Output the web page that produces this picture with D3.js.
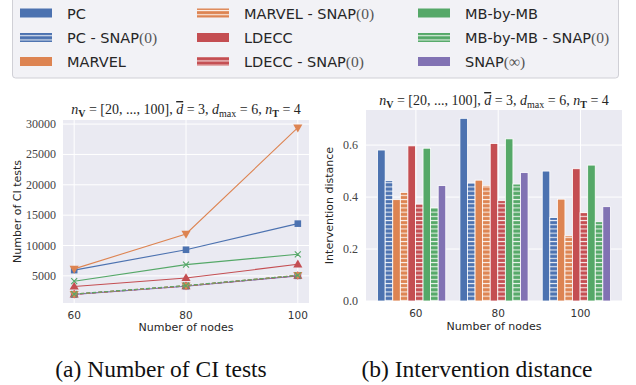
<!DOCTYPE html>
<html>
  <head>
    <meta charset="utf-8">
    <style>
      body { margin: 0; background: #fff; }
      svg { display: block; }
      .sans { font-family: "DejaVu Sans", sans-serif; }
      .serif { font-family: "Liberation Serif", "Times New Roman", serif; }
    </style>
    <script src="https://d3js.org/d3.v7.min.js"></script>
    <title>CI tests and intervention distance</title>
  </head>
  <body>
    <div id="chart"></div>
    <script>
    // ---- data
    var nodes = [60, 80, 100]
    var nodeLabels = ["60", "80", "100"]
    var methods = ["PC", "PC - SNAP", "MARVEL", "MARVEL - SNAP", "LDECC", "LDECC - SNAP", "MB-by-MB", "MB-by-MB - SNAP", "SNAP(inf)"]
    var colors = ["#4c72b0", "#4c72b0", "#dd8452", "#dd8452", "#c44e52", "#c44e52", "#55a868", "#55a868", "#8172b3"]
    var hatched = [false, true, false, true, false, true, false, true, false]

    // number of CI tests (left), one array per method
    var ciPC = [5950, 9300, 13600]
    var ciPCsnap = [1980, 3350, 5050]
    var ciMARVEL = [6150, 11900, 29400]
    var ciMARVELsnap = [2000, 3380, 5100]
    var ciLDECC = [3250, 4650, 6900]
    var ciLDECCsnap = [1960, 3330, 5030]
    var ciMB = [4120, 6850, 8550]
    var ciMBsnap = [2010, 3400, 5080]
    var ciSNAPinf = [1950, 3300, 5000]

    // intervention distance (right)
    var idPC = [0.581, 0.703, 0.500]
    var idPCsnap = [0.463, 0.454, 0.321]
    var idMARVEL = [0.390, 0.465, 0.392]
    var idMARVELsnap = [0.418, 0.445, 0.251]
    var idLDECC = [0.597, 0.606, 0.509]
    var idLDECCsnap = [0.373, 0.386, 0.340]
    var idMB = [0.588, 0.624, 0.523]
    var idMBsnap = [0.359, 0.450, 0.305]
    var idSNAPinf = [0.444, 0.494, 0.363]

    var leftTicks = [5000, 10000, 15000, 20000, 25000, 30000]
    var rightTicks = [0.0, 0.2, 0.4, 0.6]

    var ciSeries = [
      {v: ciSNAPinf, c: colors[8], m: "square", dash: false},
      {v: ciPCsnap, c: colors[1], m: "square", dash: true},
      {v: ciLDECCsnap, c: colors[5], m: "up", dash: true},
      {v: ciMARVELsnap, c: colors[3], m: "down", dash: true},
      {v: ciMBsnap, c: colors[7], m: "x", dash: true},
      {v: ciLDECC, c: colors[4], m: "up", dash: false},
      {v: ciMB, c: colors[6], m: "x", dash: false},
      {v: ciPC, c: colors[0], m: "square", dash: false},
      {v: ciMARVEL, c: colors[2], m: "down", dash: false}
    ]
    var idSeries = [idPC, idPCsnap, idMARVEL, idMARVELsnap, idLDECC, idLDECCsnap, idMB, idMBsnap, idSNAPinf]

    var W = 636, H = 385
    var svg = d3.select("#chart").append("svg").attr("width", W).attr("height", H)

    // hatch patterns (white horizontal lines)
    var defs = svg.append("defs")
    colors.forEach(function(c, i) {
      var p = defs.append("pattern").attr("id", "hatch" + i)
        .attr("patternUnits", "userSpaceOnUse").attr("width", 8).attr("height", 4.2)
      p.append("rect").attr("width", 8).attr("height", 4.2).attr("fill", c)
      p.append("rect").attr("y", 1.6).attr("width", 8).attr("height", 1.1).attr("fill", "#fff").attr("opacity", 0.85)
    })

    // title with math
    function mathTitle(g, cx, y) {
      var t = g.append("text").attr("class", "serif").attr("x", cx).attr("y", y)
        .attr("text-anchor", "middle").style("font-size", "14px").attr("fill", "#262626")
      t.append("tspan").style("font-style", "italic").text("n")
      t.append("tspan").attr("dy", 2.5).style("font-size", "10px").style("font-weight", "bold").text("V")
      t.append("tspan").attr("dy", -2.5).text(" = [20, ..., 100], ")
      t.append("tspan").style("font-style", "italic").style("text-decoration", "overline").text("d")
      t.append("tspan").text(" = 3, ")
      t.append("tspan").style("font-style", "italic").text("d")
      t.append("tspan").attr("dy", 2.5).style("font-size", "10px").text("max")
      t.append("tspan").attr("dy", -2.5).text(" = 6, ")
      t.append("tspan").style("font-style", "italic").text("n")
      t.append("tspan").attr("dy", 2.5).style("font-size", "10px").style("font-weight", "bold").text("T")
      t.append("tspan").attr("dy", -2.5).text(" = 4")
    }

    // ---------------- left: number of CI tests
    var L = {x0: 63, x1: 309, y0: 120, y1: 303}
    var xL = d3.scaleLinear().domain([58, 102]).range([L.x0, L.x1])
    var yL = d3.scaleLinear().domain([530, 30670]).range([L.y1, L.y0])
    var gl = svg.append("g")
    gl.append("rect").attr("x", L.x0).attr("y", L.y0).attr("width", L.x1 - L.x0).attr("height", L.y1 - L.y0).attr("fill", "#eaeaf2")
    gl.selectAll(".hg").data(leftTicks).enter().append("line")
      .attr("x1", L.x0).attr("x2", L.x1).attr("y1", d => yL(d)).attr("y2", d => yL(d))
      .attr("stroke", "#fff").attr("stroke-width", 1)
    gl.selectAll(".vg").data(nodes).enter().append("line")
      .attr("y1", L.y0).attr("y2", L.y1).attr("x1", d => xL(d)).attr("x2", d => xL(d))
      .attr("stroke", "#fff").attr("stroke-width", 1)
    gl.selectAll(".yt").data(leftTicks).enter().append("text").attr("class", "serif")
      .attr("x", L.x0 - 7).attr("y", d => yL(d) + 4).attr("text-anchor", "end")
      .style("font-size", "12px").attr("fill", "#444").text(d => d)
    gl.selectAll(".xt").data(nodes).enter().append("text").attr("class", "sans")
      .attr("x", d => xL(d)).attr("y", L.y1 + 16).attr("text-anchor", "middle")
      .style("font-size", "10.5px").attr("fill", "#333").text((d, i) => nodeLabels[i])
    gl.append("text").attr("class", "sans").attr("x", (L.x0 + L.x1) / 2).attr("y", 331)
      .attr("text-anchor", "middle").style("font-size", "11px").attr("fill", "#262626").text("Number of nodes")
    gl.append("text").attr("class", "sans").attr("transform", "translate(21," + (L.y0 + L.y1) / 2 + ") rotate(-90)")
      .attr("text-anchor", "middle").style("font-size", "11px").attr("fill", "#262626").text("Number of CI tests")
    mathTitle(gl, (L.x0 + L.x1) / 2, 114)

    var line = d3.line().x((d, i) => xL(nodes[i])).y(d => yL(d))
    ciSeries.forEach(function(s) {
      gl.append("path").attr("d", line(s.v)).attr("fill", "none").attr("stroke", s.c)
        .attr("stroke-width", 1.1).attr("stroke-dasharray", s.dash ? "4,2" : null)
      s.v.forEach(function(v, i) {
        var cx = xL(nodes[i]), cy = yL(v)
        if (s.m == "square") {
          gl.append("rect").attr("x", cx - 3.3).attr("y", cy - 3.3).attr("width", 6.6).attr("height", 6.6).attr("fill", s.c)
        } else if (s.m == "x") {
          gl.append("path").attr("d", "M" + (cx - 3) + "," + (cy - 3) + "L" + (cx + 3) + "," + (cy + 3) + "M" + (cx - 3) + "," + (cy + 3) + "L" + (cx + 3) + "," + (cy - 3))
            .attr("stroke", s.c).attr("stroke-width", 1.1)
        } else {
          var sym = d3.symbol().type(d3.symbolTriangle).size(36)
          gl.append("path").attr("d", sym()).attr("fill", s.c)
            .attr("transform", "translate(" + cx + "," + (cy + (s.m == "down" ? -0.5 : 0.5)) + ")" + (s.m == "down" ? " rotate(180)" : ""))
        }
      })
    })

    // ---------------- right: intervention distance
    var R = {x0: 366, x1: 622, y0: 110, y1: 301}
    var xR = d3.scaleLinear().domain([-0.606, 2.504]).range([R.x0, R.x1])
    var yR = d3.scaleLinear().domain([0, 0.735]).range([R.y1, R.y0])
    var barW = 0.092, barStart = -0.465
    var gr = svg.append("g")
    gr.append("rect").attr("x", R.x0).attr("y", R.y0).attr("width", R.x1 - R.x0).attr("height", R.y1 - R.y0).attr("fill", "#eaeaf2")
    gr.selectAll(".hg").data(rightTicks).enter().append("line")
      .attr("x1", R.x0).attr("x2", R.x1).attr("y1", d => yR(d)).attr("y2", d => yR(d))
      .attr("stroke", "#fff").attr("stroke-width", 1)
    gr.selectAll(".vg").data(nodeLabels).enter().append("line")
      .attr("y1", R.y0).attr("y2", R.y1).attr("x1", (d, i) => xR(i)).attr("x2", (d, i) => xR(i))
      .attr("stroke", "#fff").attr("stroke-width", 1)
    gr.selectAll(".yt").data(rightTicks).enter().append("text").attr("class", "serif")
      .attr("x", R.x0 - 8).attr("y", d => yR(d) + 4).attr("text-anchor", "end")
      .style("font-size", "12px").attr("fill", "#444").text(d => d.toFixed(1))
    gr.selectAll(".xt").data(nodeLabels).enter().append("text").attr("class", "sans")
      .attr("x", (d, i) => xR(i)).attr("y", R.y1 + 16).attr("text-anchor", "middle")
      .style("font-size", "10.5px").attr("fill", "#333").text(d => d)
    gr.append("text").attr("class", "sans").attr("x", (R.x0 + R.x1) / 2).attr("y", 330)
      .attr("text-anchor", "middle").style("font-size", "11px").attr("fill", "#262626").text("Number of nodes")
    gr.append("text").attr("class", "sans").attr("transform", "translate(333," + (R.y0 + R.y1) / 2 + ") rotate(-90)")
      .attr("text-anchor", "middle").style("font-size", "11px").attr("fill", "#262626").text("Intervention distance")
    mathTitle(gr, (R.x0 + R.x1) / 2, 105)

    idSeries.forEach(function(vals, k) {
      vals.forEach(function(v, i) {
        var left = i + barStart + k * barW
        gr.append("rect").attr("x", xR(left)).attr("width", xR(left + barW) - xR(left))
          .attr("y", yR(v)).attr("height", yR(0) - yR(v))
          .attr("fill", hatched[k] ? "url(#hatch" + k + ")" : colors[k])
          .attr("stroke", "#fff").attr("stroke-width", 0.8)
      })
    })

    // ---------------- legend
    var lg = svg.append("g")
    lg.append("rect").attr("x", 12.5).attr("y", -5).attr("width", 606).attr("height", 83).attr("rx", 3)
      .attr("fill", "#f2f2f6").attr("stroke", "#d0d0d6")
    var legendLabels = [["PC"], ["PC - SNAP", "(0)"], ["MARVEL"], ["MARVEL - SNAP", "(0)"], ["LDECC"], ["LDECC - SNAP", "(0)"], ["MB-by-MB"], ["MB-by-MB - SNAP", "(0)"], ["SNAP", "(\u221e)"]]
    var colX = [20, 197, 418], rowY = [13, 37.5, 61.5]
    legendLabels.forEach(function(lab, k) {
      var cx = colX[Math.floor(k / 3)], cy = rowY[k % 3]
      lg.append("rect").attr("x", cx).attr("y", cy - 4.5).attr("width", 32).attr("height", 9)
        .attr("fill", hatched[k] ? "url(#hatch" + k + ")" : colors[k])
      var t = lg.append("text").attr("class", "sans").attr("x", cx + 47).attr("y", cy + 5.5)
        .style("font-size", "14.5px").attr("fill", "#262626")
      t.append("tspan").text(lab[0])
      if (lab[1]) t.append("tspan").attr("class", "serif").style("font-size", "15.5px").attr("fill", "#555").text(lab[1])
    })

    // captions
    svg.append("text").attr("x", 161).attr("y", 377).attr("text-anchor", "middle")
      .style("font-family", "'Liberation Serif', serif").style("font-size", "23.5px").attr("fill", "#111")
      .text("(a) Number of CI tests")
    svg.append("text").attr("x", 477).attr("y", 377).attr("text-anchor", "middle")
      .style("font-family", "'Liberation Serif', serif").style("font-size", "23.5px").attr("fill", "#111")
      .text("(b) Intervention distance")
    </script>
  </body>
</html>
